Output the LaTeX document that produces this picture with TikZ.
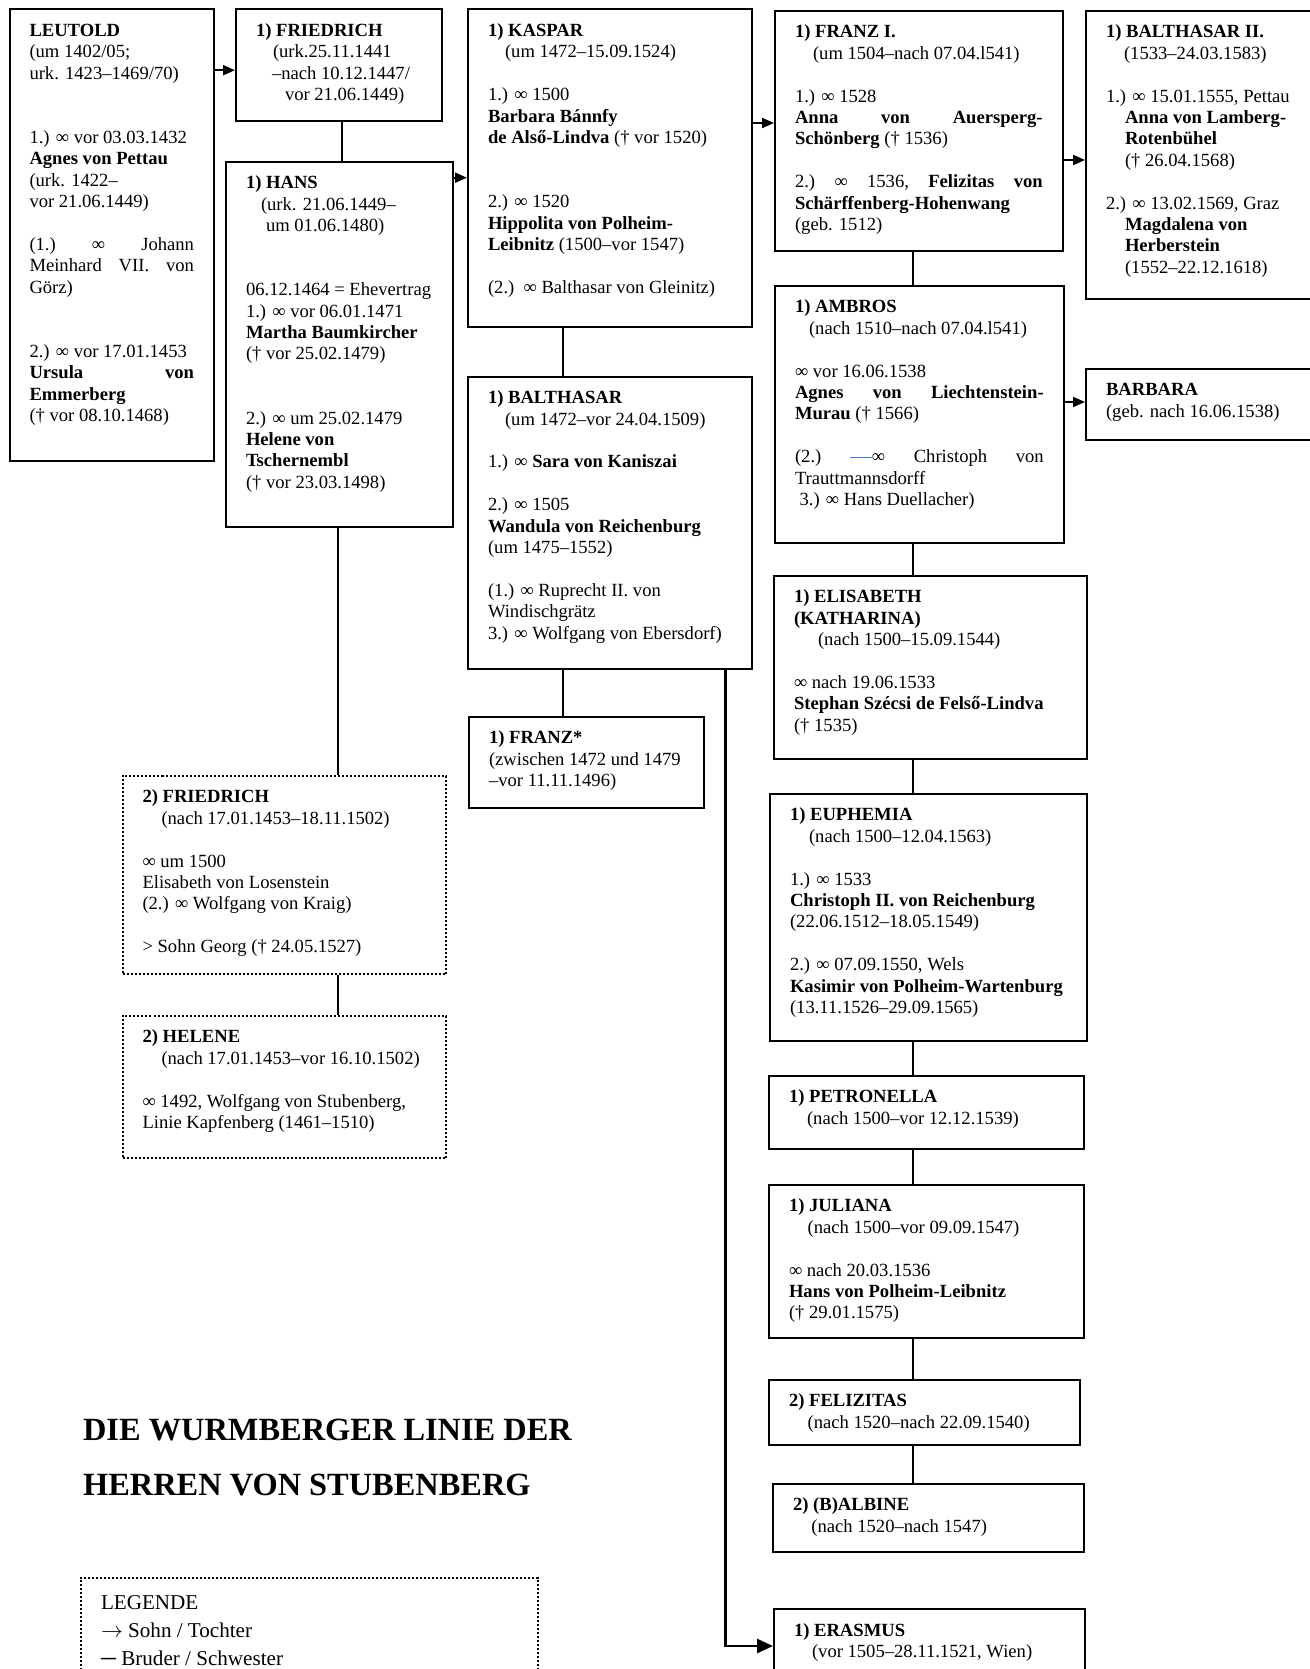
\documentclass[tikz,border=0pt]{standalone}
\usepackage{fontspec}
\setmainfont{Liberation Serif}
\usetikzlibrary{arrows.meta}

\newcommand{\boxfont}{\fontsize{9.3}{10.7}\selectfont}
\newcommand{\legendfont}{\fontsize{10.55}{14}\selectfont}
\newcommand{\titlefont}{\fontsize{16.2}{27.5}\selectfont\bfseries}
\definecolor{dashblue}{RGB}{68,114,196}

\tikzstyle{person} = [draw=black, line width=1pt, rectangle, inner xsep=10pt, inner ysep=6pt, anchor=north west, font=\boxfont]
\tikzstyle{dotperson} = [person, densely dotted]
\tikzstyle{kid} = [line width=1pt, -{Triangle[length=6pt,width=5pt]}]
\tikzstyle{sib} = [line width=1pt]

\begin{document}
\begin{tikzpicture}[x=0.5pt, y=-0.5pt]
\useasboundingbox[fill=white] (0,0) rectangle (1310,1669);

% Leutold and his sons
\node[person] (leutold) at (8.5,8.5) {%
  \begin{minipage}[t][213.75pt][t]{82.25pt}
  \strut\textbf{LEUTOLD}\\
  (um 1402/05;\\
  urk. 1423–1469/70)\\[21.4pt]
  \mbox{1.) ∞ vor 03.03.1432}\\
  \textbf{Agnes von Pettau}\\
  (urk. 1422–\\
  vor 21.06.1449)\\[10.7pt]
  (1.)\hfill∞\hfill Johann\\
  Meinhard\hfill VII.\hfill von\\
  Görz)\\[21.4pt]
  \mbox{2.) ∞ vor 17.01.1453}\\
  \textbf{Ursula}\hfill\textbf{von}\\
  \textbf{Emmerberg}\\
  († vor 08.10.1468)
  \end{minipage}%
};
\node[person] (friedricha) at (235,8.5) {%
  \begin{minipage}[t][43.9pt][t]{82.75pt}
  \strut\textbf{1) FRIEDRICH}\\
  \hspace*{8.5pt}(urk.25.11.1441\\
  \hspace*{8pt}\mbox{–nach 10.12.1447/}\\
  \hspace*{14.5pt}\mbox{vor 21.06.1449)}
  \end{minipage}%
};
\node[person] (hans) at (225,160.7) {%
  \begin{minipage}[t][170.5pt][t]{93.5pt}
  \strut\textbf{1) HANS}\\
  \hspace*{7.5pt}(urk. 21.06.1449–\\
  \hspace*{10pt}um 01.06.1480)\\[21.4pt]
  \mbox{06.12.1464 = Ehevertrag}\\
  1.) ∞ vor 06.01.1471\\
  \textbf{Martha Baumkircher}\\
  († vor 25.02.1479)\\[21.4pt]
  2.) ∞ um 25.02.1479\\
  \textbf{Helene von}\\
  \textbf{Tschernembl}\\
  († vor 23.03.1498)
  \end{minipage}%
};
\node[dotperson] (friedrichb) at (121.5,775) {%
  \begin{minipage}[t][87pt][t]{141.75pt}
  \strut\textbf{2) FRIEDRICH}\\
  \hspace*{9.5pt}(nach 17.01.1453–18.11.1502)\\[10.7pt]
  ∞ um 1500\\
  Elisabeth von Losenstein\\
  (2.) ∞ Wolfgang von Kraig)\\[10.7pt]
  > Sohn Georg († 24.05.1527)
  \end{minipage}%
};
\node[dotperson] (helene) at (121.5,1015) {%
  \begin{minipage}[t][59pt][t]{141.75pt}
  \strut\textbf{2) HELENE}\\
  \hspace*{9.5pt}(nach 17.01.1453–vor 16.10.1502)\\[10.7pt]
  ∞ 1492, Wolfgang von Stubenberg,\\
  Linie Kapfenberg (1461–1510)
  \end{minipage}%
};

% Hans' sons
\node[person] (kaspar) at (467,8.5) {%
  \begin{minipage}[t][146.75pt][t]{122pt}
  \strut\textbf{1) KASPAR}\\
  \hspace*{8.5pt}(um 1472–15.09.1524)\\[10.7pt]
  1.) ∞ 1500\\
  \textbf{Barbara Bánnfy}\\
  \textbf{de Alső-Lindva} († vor 1520)\\[21.4pt]
  2.) ∞ 1520\\
  \textbf{Hippolita von Polheim-}\\
  \textbf{Leibnitz} (1500–vor 1547)\\[10.7pt]
  \mbox{(2.)\ \ ∞ Balthasar von Gleinitz)}
  \end{minipage}%
};
\node[person] (balthasar) at (467,375.7) {%
  \begin{minipage}[t][134.15pt][t]{122pt}
  \strut\textbf{1) BALTHASAR}\\
  \hspace*{8.5pt}(um 1472–vor 24.04.1509)\\[10.7pt]
  1.) ∞ \textbf{Sara von Kaniszai}\\[10.7pt]
  2.) ∞ 1505\\
  \textbf{Wandula von Reichenburg}\\
  (um 1475–1552)\\[10.7pt]
  (1.) ∞ Ruprecht II. von\\
  Windischgrätz\\
  \mbox{3.) ∞ Wolfgang von Ebersdorf)}
  \end{minipage}%
};
\node[person] (franzstar) at (468,716) {%
  \begin{minipage}[t][33.35pt][t]{97.5pt}
  \strut\textbf{1) FRANZ*}\\
  (zwischen 1472 und 1479\\
  –vor 11.11.1496)
  \end{minipage}%
};

% Kaspar's children
\node[person] (franzi) at (774,10) {%
  \begin{minipage}[t][108pt][t]{123.85pt}
  \strut\textbf{1) FRANZ I.}\\
  \hspace*{9pt}(um 1504–nach 07.04.l541)\\[10.7pt]
  1.) ∞ 1528\\
  \textbf{Anna}\hfill\textbf{von}\hfill\textbf{Auersperg-}\\
  \textbf{Schönberg} († 1536)\\[10.7pt]
  2.)\hfill∞\hfill 1536,\hfill\textbf{Felizitas}\hfill\textbf{von}\\
  \textbf{Schärffenberg-Hohenwang}\\
  (geb. 1512)
  \end{minipage}%
};
\node[person] (ambros) at (774,285) {%
  \begin{minipage}[t][116.35pt][t]{124.35pt}
  \strut\textbf{1) AMBROS}\\
  \hspace*{7pt}(nach 1510–nach 07.04.l541)\\[10.7pt]
  ∞ vor 16.06.1538\\
  \textbf{Agnes}\hfill\textbf{von}\hfill\textbf{Liechtenstein-}\\
  \textbf{Murau} († 1566)\\[10.7pt]
  (2.)\hfill\textcolor{dashblue}{\rule[2.6pt]{11pt}{0.5pt}}∞\hfill Christoph\hfill von\\
  Trauttmannsdorff\\
  \hspace*{2.3pt}3.) ∞ Hans Duellacher)
  \end{minipage}%
};
\node[person] (elisabeth) at (773,575) {%
  \begin{minipage}[t][79.5pt][t]{136.5pt}
  \strut\textbf{1) ELISABETH}\\
  \textbf{(KATHARINA)}\\
  \hspace*{12pt}(nach 1500–15.09.1544)\\[10.7pt]
  ∞ nach 19.06.1533\\
  \textbf{Stephan Szécsi de Felső-Lindva}\\
  († 1535)
  \end{minipage}%
};
\node[person] (euphemia) at (769,793) {%
  \begin{minipage}[t][111.5pt][t]{138.5pt}
  \strut\textbf{1) EUPHEMIA}\\
  \hspace*{9.5pt}(nach 1500–12.04.1563)\\[10.7pt]
  1.) ∞ 1533\\
  \textbf{Christoph II. von Reichenburg}\\
  (22.06.1512–18.05.1549)\\[10.7pt]
  2.) ∞ 07.09.1550, Wels\\
  \mbox{\textbf{Kasimir von Polheim-Wartenburg}}\\
  (13.11.1526–29.09.1565)
  \end{minipage}%
};
\node[person] (petronella) at (768,1075) {%
  \begin{minipage}[t][24.5pt][t]{137.5pt}
  \strut\textbf{1) PETRONELLA}\\
  \hspace*{9pt}(nach 1500–vor 12.12.1539)
  \end{minipage}%
};
\node[person] (juliana) at (768,1184) {%
  \begin{minipage}[t][64.5pt][t]{137.5pt}
  \strut\textbf{1) JULIANA}\\
  \hspace*{9.3pt}(nach 1500–vor 09.09.1547)\\[10.7pt]
  ∞ nach 20.03.1536\\
  \textbf{Hans von Polheim-Leibnitz}\\
  († 29.01.1575)
  \end{minipage}%
};
\node[person] (felizitas) at (768,1379) {%
  \begin{minipage}[t][20.5pt][t]{135.5pt}
  \strut\textbf{2) FELIZITAS}\\
  \hspace*{9.3pt}(nach 1520–nach 22.09.1540)
  \end{minipage}%
};
\node[person] (albine) at (772,1483) {%
  \begin{minipage}[t][21.8pt][t]{135.5pt}
  \strut\textbf{2) (B)ALBINE}\\
  \hspace*{9.2pt}(nach 1520–nach 1547)
  \end{minipage}%
};
\node[person] (erasmus) at (773,1608) {%
  \begin{minipage}[t][40pt][t]{135.5pt}
  \strut\textbf{1) ERASMUS}\\
  \hspace*{9pt}(vor 1505–28.11.1521, Wien)
  \end{minipage}%
};

% Franz I.'s and Ambros' children
\node[person] (balthasarii) at (1085,10) {%
  \begin{minipage}[t][131.85pt][t]{95.5pt}
  \strut\textbf{1) BALTHASAR II.}\\
  \hspace*{9pt}(1533–24.03.1583)\\[10.7pt]
  1.) ∞ 15.01.1555, Pettau\\
  \hspace*{9.5pt}\textbf{Anna von Lamberg-}\\
  \hspace*{9.5pt}\textbf{Rotenbühel}\\
  \hspace*{9.5pt}(† 26.04.1568)\\[10.7pt]
  2.) ∞ 13.02.1569, Graz\\
  \hspace*{9.5pt}\textbf{Magdalena von}\\
  \hspace*{9.5pt}\textbf{Herberstein}\\
  \hspace*{9.5pt}(1552–22.12.1618)
  \end{minipage}%
};
\node[person] (barbara) at (1085,368) {%
  \begin{minipage}[t][23.25pt][t]{95.5pt}
  \strut\textbf{BARBARA}\\
  (geb. nach 16.06.1538)
  \end{minipage}%
};

% title and legend
\node[anchor=base west, inner sep=0pt] (title) at (82.7,1440) {%
  \begin{minipage}[t]{320pt}\titlefont
  DIE WURMBERGER LINIE DER\\
  HERREN VON STUBENBERG
  \end{minipage}%
};
\node[dotperson, font=\legendfont] (legend) at (80,1576.7) {%
  \begin{minipage}[t][60pt][t]{208.35pt}
  \strut LEGENDE\\
  $\rightarrow$ Sohn / Tochter\\
  \textbf{─} Bruder / Schwester
  \end{minipage}%
};

% connectors
\coordinate (colA) at (341.6,0);
\coordinate (colB) at (338.4,0);
\coordinate (colK) at (563,0);
\coordinate (colE) at (725.5,0);
\coordinate (colF) at (913,0);
\coordinate (rowL) at (0,70.2);
\coordinate (rowH) at (0,177.7);
\coordinate (rowK) at (0,123);
\coordinate (rowF) at (0,160);
\coordinate (rowA) at (0,402);
\coordinate (rowE) at (0,1646);

\draw[kid] (leutold.east |- rowL) -- (friedricha.west |- rowL);
\draw[sib] (friedricha.south -| colA) -- (hans.north -| colA);
\draw[kid] (hans.east |- rowH) -- (kaspar.west |- rowH);
\draw[sib] (hans.south -| colB) -- (friedrichb.north -| colB);
\draw[sib] (friedrichb.south -| colB) -- (helene.north -| colB);
\draw[sib] (kaspar.south -| colK) -- (balthasar.north -| colK);
\draw[sib] (balthasar.south -| colK) -- (franzstar.north -| colK);
\draw[line width=1.4pt, -{Triangle[length=8pt,width=7pt]}] (balthasar.south -| colE) |- (erasmus.west |- rowE);
\draw[kid] (kaspar.east |- rowK) -- (franzi.west |- rowK);
\draw[kid] (franzi.east |- rowF) -- (balthasarii.west |- rowF);
\draw[kid] (ambros.east |- rowA) -- (barbara.west |- rowA);
\foreach \a/\b in {franzi/ambros, ambros/elisabeth, elisabeth/euphemia, euphemia/petronella, petronella/juliana, juliana/felizitas, felizitas/albine}
  \draw[sib] (\a.south -| colF) -- (\b.north -| colF);
\end{tikzpicture}
\end{document}
